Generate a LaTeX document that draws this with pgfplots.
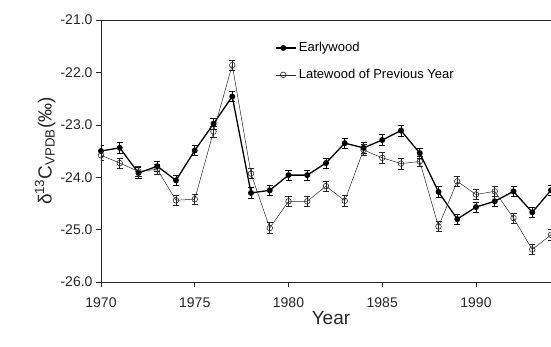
\documentclass[border=0pt]{standalone}
\usepackage{pgfplots}
\pgfplotsset{compat=1.18}
\usepackage{pgfplotstable}
\usepackage{fontspec}
\setmainfont{Liberation Sans}
\pgfplotstableread{
year ew lw
1970 -23.50 -23.58
1971 -23.44 -23.73
1972 -23.92 -23.89
1973 -23.79 -23.85
1974 -24.06 -24.44
1975 -23.49 -24.42
1976 -22.98 -23.13
1977 -22.46 -21.86
1978 -24.30 -23.93
1979 -24.25 -24.97
1980 -23.96 -24.46
1981 -23.96 -24.46
1982 -23.73 -24.17
1983 -23.35 -24.45
1984 -23.44 -23.48
1985 -23.29 -23.63
1986 -23.11 -23.74
1987 -23.54 -23.70
1988 -24.28 -24.94
1989 -24.80 -24.08
1990 -24.57 -24.33
1991 -24.46 -24.27
1992 -24.27 -24.78
1993 -24.67 -25.38
1994 -24.25 -25.10
}\data
\begin{document}
\begin{tikzpicture}
\begin{axis}[
  scale only axis,
  width=450bp, height=262bp,
  xmin=1970, xmax=1994,
  ymin=-26, ymax=-21,
  axis x line*=box,
  axis y line*=left,
  xtick pos=left,
  ytick pos=left,
  xtick={1970,1975,1980,1985,1990},
  xticklabels={1970,1975,1980,1985,1990},
  ytick={-26,-25,-24,-23,-22,-21},
  yticklabels={-26.0,-25.0,-24.0,-23.0,-22.0,-21.0},
  tick align=outside,
  major tick length=5bp,
  axis line style={line width=0.8pt, black!85},
  tick style={line width=0.6pt, black!85},
  tick label style={font=\fontsize{14bp}{16bp}\selectfont, black!85},
  xticklabel style={yshift=-7bp},
  xlabel={Year},
  ylabel={δ\textsuperscript{13}C\textsubscript{VPDB}(‰)},
  every axis x label/.style={at={(axis description cs:0.511,-0.137)},anchor=center,font=\fontsize{19bp}{22bp}\selectfont, black!85},
  every axis y label/.style={at={(axis description cs:-0.124,0.5)},rotate=90,anchor=center,font=\fontsize{19bp}{22bp}\selectfont, black!85},
  legend style={at={(axis cs:1979.3,-21.79)},anchor=west,draw=none,fill=none,
    font=\fontsize{13bp}{15bp}\selectfont, row sep=12bp, inner sep=0pt},
  legend cell align=left,
  legend image code/.code={
    \draw[#1] (0bp,0bp) -- (20bp,0bp);
    \draw[#1,mark repeat=1] plot coordinates {(7bp,0bp)};
  },
]
\addplot[black, line width=1.3pt, mark=*, mark size=2.3bp,
  error bars/.cd, y dir=both, y fixed=0.1,
  error mark options={rotate=90, mark size=3bp, line width=0.6pt},
  error bar style={line width=0.6pt}]
  table[x=year,y=ew]{\data};
\addlegendentry{Earlywood}
\addplot[black!85, line width=0.5pt, mark=o, mark size=2.8bp,
  mark options={fill=white, line width=0.6pt},
  error bars/.cd, y dir=both, y fixed=0.1,
  error mark options={rotate=90, mark size=3bp, line width=0.6pt},
  error bar style={line width=0.6pt}]
  table[x=year,y=lw]{\data};
\addlegendentry{Latewood of Previous Year}
\end{axis}
\pgfresetboundingbox
\path[use as bounding box] (-101bp,-65bp) rectangle (450bp,282bp);
\end{tikzpicture}
\end{document}
